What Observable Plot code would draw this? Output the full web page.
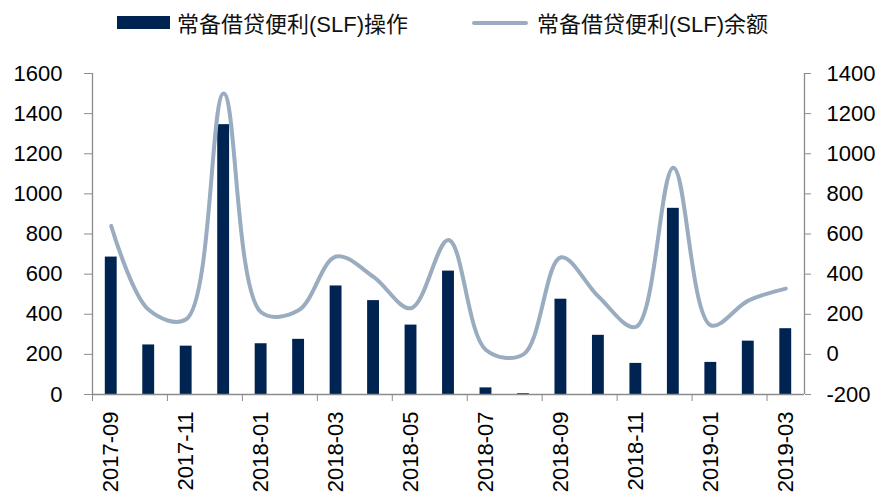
<!DOCTYPE html>
<html>
<head>
<meta charset="utf-8">
<script src="https://cdn.jsdelivr.net/npm/d3@7"></script>
<script src="https://cdn.jsdelivr.net/npm/@observablehq/plot@0.6"></script>
<style>
  html, body { margin: 0; padding: 0; background: #fff; }
  #wrap { width: 893px; height: 500px; position: relative; overflow: hidden; }
  #legend { height: 50px; position: relative; font-family: "Liberation Sans", "Noto Sans CJK SC", sans-serif; font-size: 22px; color: #111; }
  .sw-bar { position: absolute; left: 117px; top: 16px; width: 53px; height: 13px; background: #002452; }
  .lab1 { position: absolute; left: 177px; top: 6px; white-space: nowrap; }
  .sw-line { position: absolute; left: 472px; top: 21px; width: 56px; height: 4px; background: #9aacbf; border-radius: 2px; }
  .lab2 { position: absolute; left: 537px; top: 6px; white-space: nowrap; }
</style>
</head>
<body>
<div id="wrap">
  <div id="legend">
    <div class="sw-bar"></div><div class="lab1">常备借贷便利(SLF)操作</div>
    <div class="sw-line"></div><div class="lab2">常备借贷便利(SLF)余额</div>
  </div>
  <div id="chart"></div>
</div>
<script>
const months = ["2017-09","2017-10","2017-11","2017-12","2018-01","2018-02","2018-03","2018-04","2018-05","2018-06","2018-07","2018-08","2018-09","2018-10","2018-11","2018-12","2019-01","2019-02","2019-03"];
const operations = [685, 247, 241, 1345, 253, 275, 541, 468, 346, 615, 33, 4, 475, 295, 155, 928, 160, 266, 328];
const balance = [640, 222, 175, 1300, 210, 220, 488, 386, 230, 570, 22, 0, 484, 288, 137, 930, 145, 268, 328];
const leftTicks = [0, 200, 400, 600, 800, 1000, 1200, 1400, 1600];
const rightTicks = [-200, 0, 200, 400, 600, 800, 1000, 1200, 1400];
const rightOffset = 200; // right axis value + 200 = left axis value

const rows = months.map((m, i) => ({ i, month: m, op: operations[i], bal: balance[i] }));
const tickIdx = months.map((m, i) => i).filter(i => i % 2 === 0);

const axisColor = "#8c8c8c";
const chart = Plot.plot({
  width: 893,
  height: 450,
  marginLeft: 92,
  marginRight: 89,
  marginTop: 23,
  marginBottom: 106,
  style: { fontFamily: "'Liberation Sans', Arial, sans-serif", fontSize: "22px", color: "#000", background: "#fff" },
  x: { type: "linear", domain: [0, months.length], axis: null },
  y: { domain: [0, 1600], axis: null },
  marks: [
    Plot.rectY(rows, { x1: "i", x2: d => d.i + 1, y: "op", fill: "#002452", insetLeft: 12.8, insetRight: 12.8 }),
    Plot.line(rows, { x: d => d.i + 0.5, y: d => d.bal + rightOffset, stroke: "#9aacbf", strokeWidth: 4, curve: "catmull-rom" }),
    Plot.ruleX([0, months.length], { stroke: axisColor, strokeWidth: 1.3 }),
    Plot.ruleY([0], { stroke: axisColor, strokeWidth: 1.5 }),
    Plot.axisY({ anchor: "left", label: null, ticks: leftTicks, tickSize: 8, tickPadding: 22, stroke: axisColor, tickFormat: d => String(d), fill: "#000" }),
    Plot.axisY({ anchor: "right", label: null, ticks: rightTicks.map(v => v + rightOffset), tickSize: 6, tickPadding: 16, stroke: axisColor, tickFormat: d => String(d - rightOffset), fill: "#000" }),
    Plot.axisX({ anchor: "bottom", label: null, ticks: tickIdx, tickSize: 7, tickFormat: () => "", stroke: axisColor }),
    Plot.axisX({ anchor: "bottom", label: null, ticks: tickIdx.map(i => i + 0.5), tickSize: 0, tickPadding: 17, tickRotate: -90, tickFormat: v => months[Math.round(v - 0.5)], fill: "#000" })
  ]
});
document.getElementById("chart").appendChild(chart);
</script>
</body>
</html>
